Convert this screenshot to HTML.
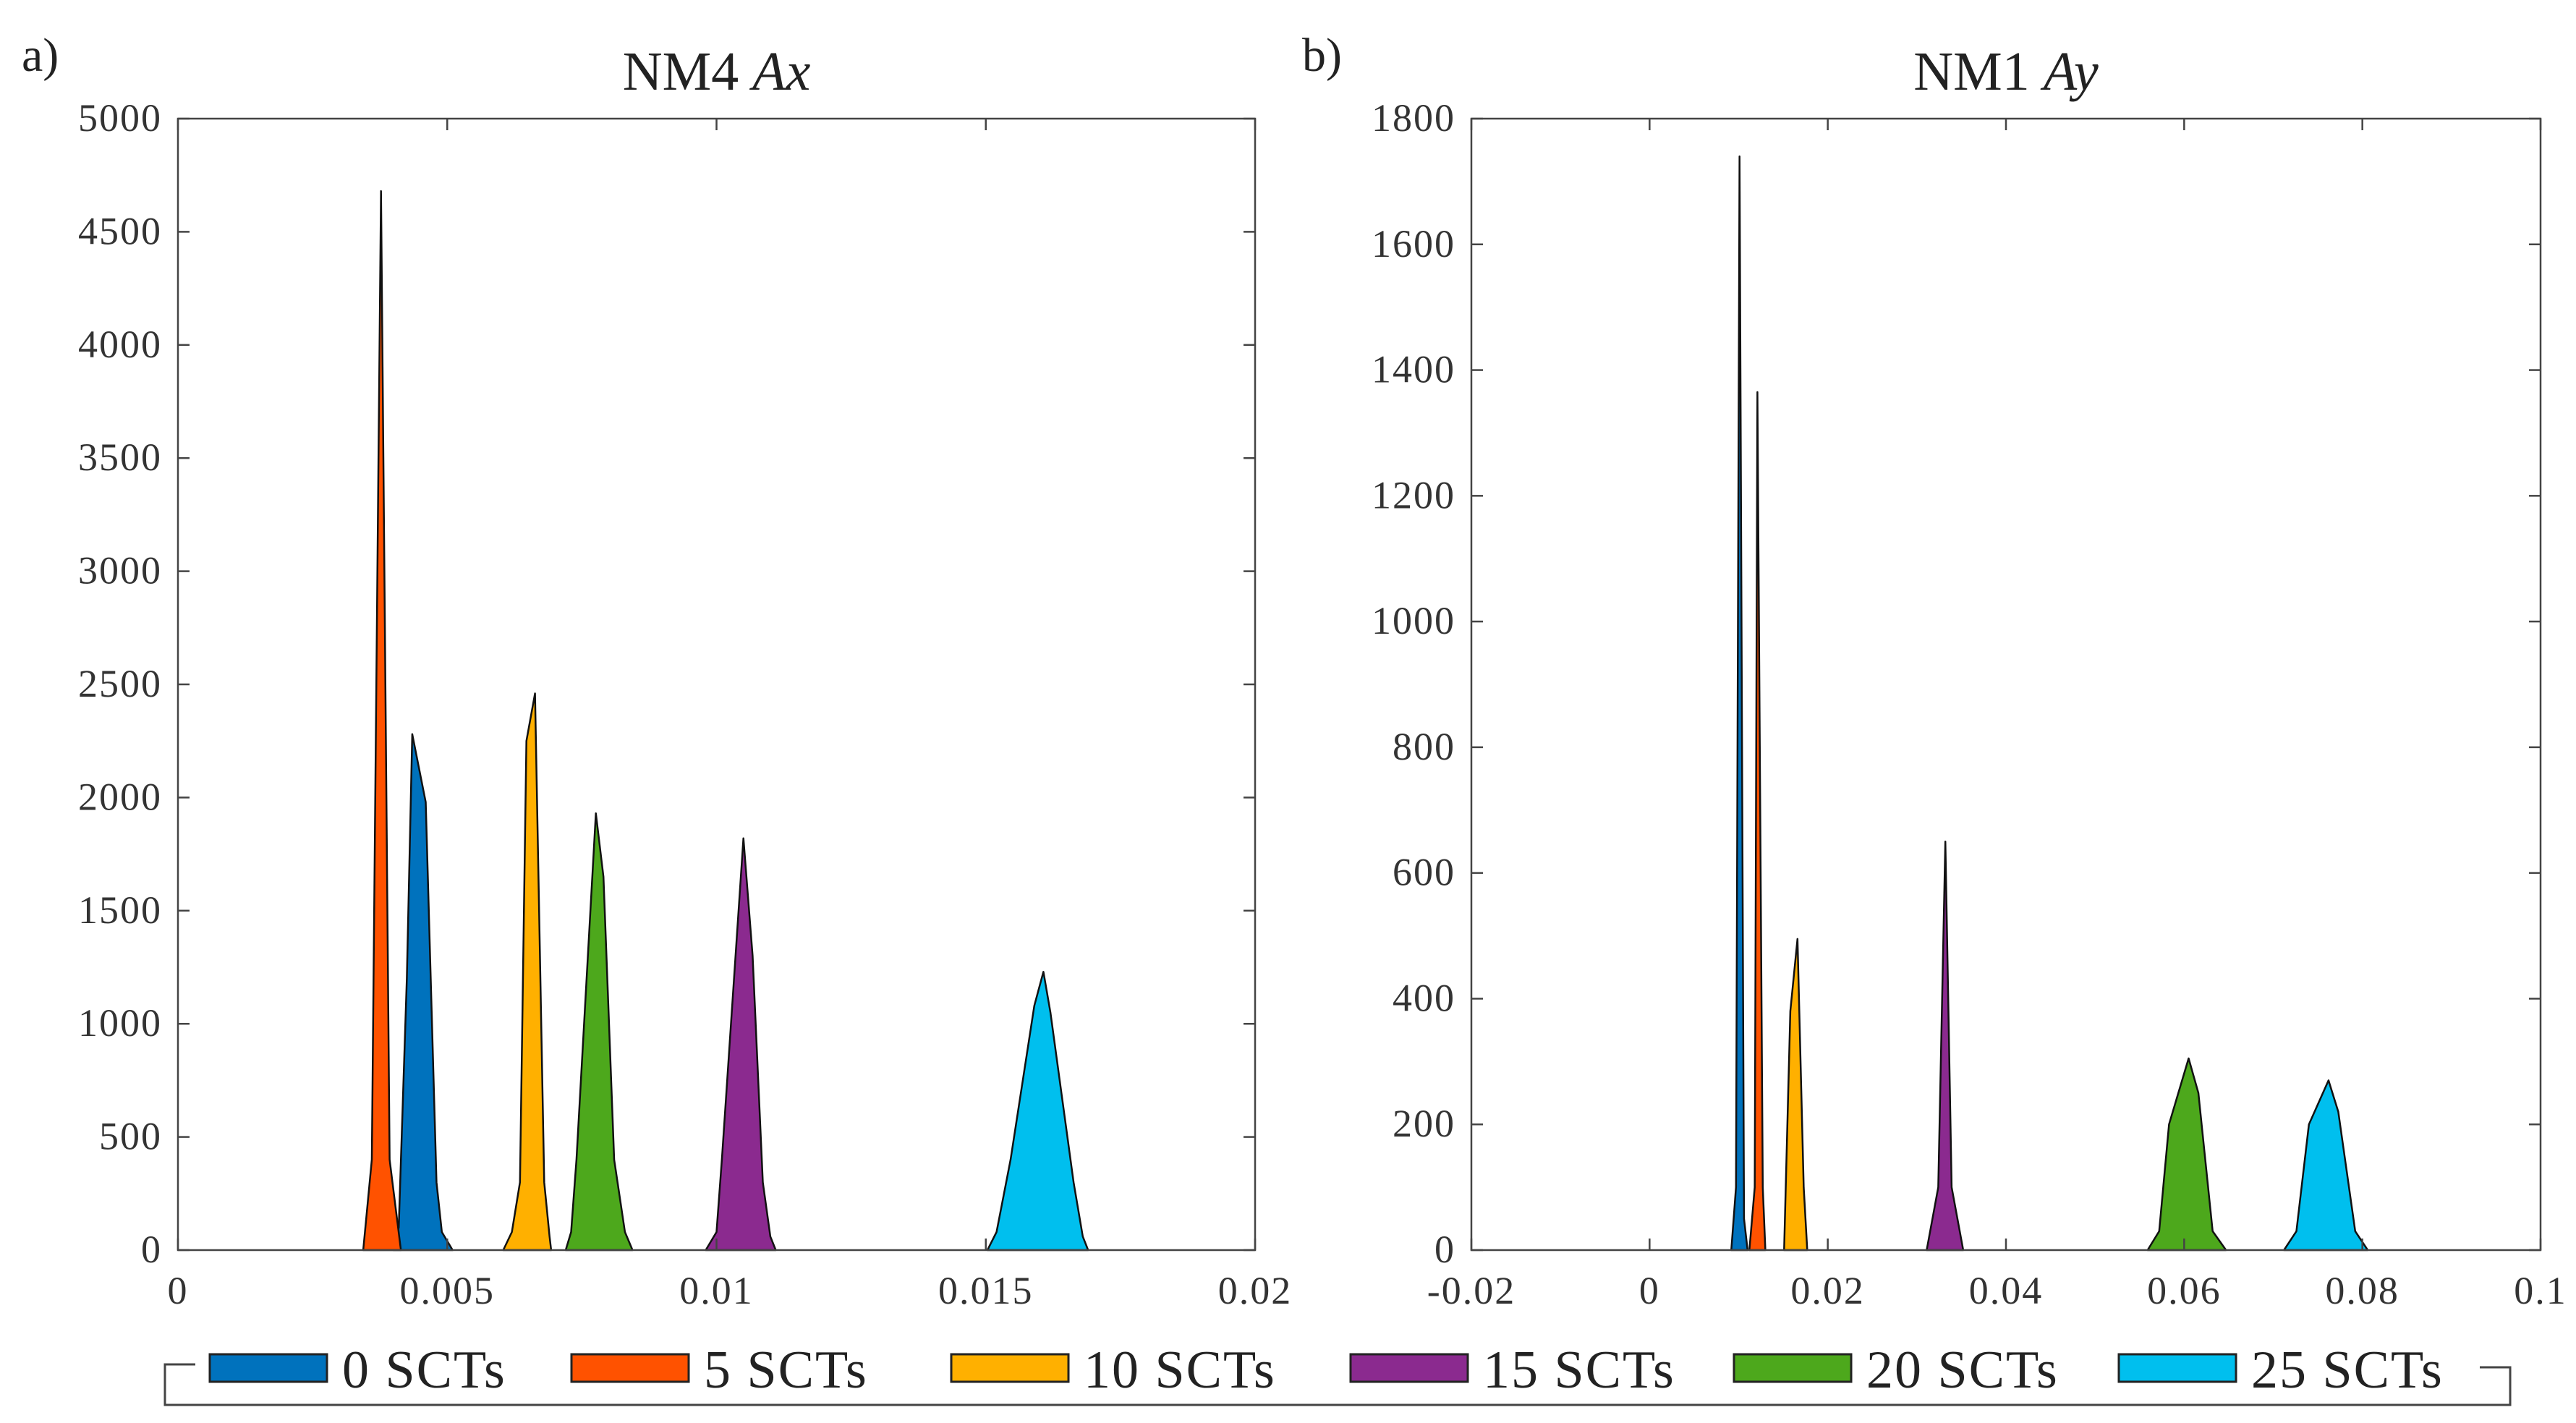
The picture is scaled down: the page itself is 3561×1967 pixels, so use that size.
<!DOCTYPE html>
<html><head><meta charset="utf-8"><style>
html,body{margin:0;padding:0;background:#fff;}
svg{display:block;font-family:"Liberation Serif",serif;}
</style></head><body>
<svg id="fig" width="3561" height="1967" viewBox="0 0 3561 1967" xmlns="http://www.w3.org/2000/svg">
<g id="panelA"></g>
<g id="panelB"></g>
<g id="legend"></g>
</svg>
<script>
const seriesNames = ["0 SCTs","5 SCTs","10 SCTs","15 SCTs","20 SCTs","25 SCTs"];
const seriesColors = ["#0072BD","#FF5200","#FFB000","#8B2A8F","#4DA81C","#00BFEE"];

// Panel a: NM4 Ax
const aXTicks = [0,0.005,0.01,0.015,0.02];
const aXTickLabels = ["0","0.005","0.01","0.015","0.02"];
const aYTicks = [0,500,1000,1500,2000,2500,3000,3500,4000,4500,5000];
const aBaseline = [0.00092,0.019];
const aX = [
 [0.0040,0.0041,0.00425,0.00435,0.0046,0.0048,0.0049,0.0051],
 [0.00344,0.0036,0.00377,0.00393,0.00414],
 [0.00604,0.0062,0.00635,0.00647,0.00663,0.0068,0.0069,0.00693],
 [0.0098,0.0100,0.0101,0.0105,0.01067,0.01086,0.0110,0.0111],
 [0.0072,0.0073,0.0074,0.00776,0.0079,0.0081,0.0083,0.00844],
 [0.01503,0.0152,0.01546,0.0159,0.01607,0.0162,0.01663,0.0168,0.0169]
];
const aY = [
 [0,100,1200,2280,1980,300,80,0],
 [0,400,4680,400,0],
 [0,80,300,2250,2460,300,60,0],
 [0,80,400,1820,1300,300,60,0],
 [0,80,400,1930,1650,400,80,0],
 [0,80,400,1080,1230,1050,300,60,0]
];

// Panel b: NM1 Ay
const bXTicks = [-0.02,0,0.02,0.04,0.06,0.08,0.1];
const bXTickLabels = ["-0.02","0","0.02","0.04","0.06","0.08","0.1"];
const bYTicks = [0,200,400,600,800,1000,1200,1400,1600,1800];
const bBaseline = [-0.0026,0.0887];
const bX = [
 [0.00917,0.0097,0.0101,0.0106,0.011],
 [0.0112,0.0118,0.0121,0.0127,0.013],
 [0.0151,0.0158,0.0166,0.0173,0.0177],
 [0.0311,0.0324,0.0332,0.0339,0.0352],
 [0.0559,0.0572,0.0583,0.0605,0.0616,0.0632,0.0647],
 [0.0712,0.0726,0.0740,0.0762,0.0773,0.0792,0.0806]
];
const bY = [
 [0,100,1740,50,0],
 [0,100,1365,100,0],
 [0,380,495,100,0],
 [0,100,650,100,0],
 [0,30,200,305,250,30,0],
 [0,30,200,270,220,30,0]
];

const NS="http://www.w3.org/2000/svg";
function mk(tag,attrs,parent){const e=document.createElementNS(NS,tag);for(const k in attrs)e.setAttribute(k,attrs[k]);parent.appendChild(e);return e;}

function drawPanel(g,cfg){
  const {L,R,T,B,xmin,xmax,ymin,ymax}=cfg;
  const sx=v=>L+(v-xmin)/(xmax-xmin)*(R-L);
  const sy=v=>B-(v-ymin)/(ymax-ymin)*(B-T);
  const bl=mk('line',{x1:sx(cfg.base[0]),x2:sx(cfg.base[1]),y1:sy(0),y2:sy(0),stroke:'#222','stroke-width':2},g);
  
  
  for(let s=0;s<cfg.xs.length;s++){
    let d='';
    for(let i=0;i<cfg.xs[s].length;i++){d+=(i?'L':'M')+sx(cfg.xs[s][i]).toFixed(1)+','+sy(cfg.ys[s][i]).toFixed(1);}
    d+='Z';
    const p=mk('path',{d:d,fill:seriesColors[s],stroke:'#111','stroke-width':2.5,'stroke-linejoin':'round'},g);
    
    
  }
  const box=mk('rect',{x:L,y:T,width:R-L,height:B-T,fill:'none',stroke:'#444','stroke-width':2.5},g);
  
  
  cfg.xt.forEach((v,i)=>{
    const x=sx(v);
    mk('line',{x1:x,x2:x,y1:B,y2:B-16,stroke:'#444','stroke-width':2.5},g);
    mk('line',{x1:x,x2:x,y1:T,y2:T+16,stroke:'#444','stroke-width':2.5},g);
    const t=mk('text',{x:x,y:1802,'font-size':54,'text-anchor':'middle',fill:'#333','letter-spacing':2},g);
    t.textContent=cfg.xl[i];
    
    
  });
  cfg.yt.forEach(v=>{
    const y=sy(v);
    mk('line',{x1:L,x2:L+16,y1:y,y2:y,stroke:'#444','stroke-width':2.5},g);
    mk('line',{x1:R,x2:R-16,y1:y,y2:y,stroke:'#444','stroke-width':2.5},g);
    const t=mk('text',{x:L-22,y:y+17,'font-size':54,'text-anchor':'end',fill:'#333','letter-spacing':2},g);
    t.textContent=String(v);
    
    
  });
  const tt=mk('text',{x:(L+R)/2,y:124,'font-size':76,'text-anchor':'middle',fill:'#222'},g);
  tt.innerHTML=cfg.title;
  
  
  const lb=mk('text',{x:cfg.lx,y:98,'font-size':66,fill:'#222'},g);
  lb.textContent=cfg.label;
  
  
}

drawPanel(document.getElementById('panelA'),{L:246,R:1735,T:164,B:1728,xmin:0,xmax:0.02,ymin:0,ymax:5000,
  xs:aX,ys:aY,xt:aXTicks,xl:aXTickLabels,yt:aYTicks,base:aBaseline,title:'NM4 <tspan font-style="italic">Ax</tspan>',label:'a)',lx:30});
drawPanel(document.getElementById('panelB'),{L:2034,R:3512,T:164,B:1728,xmin:-0.02,xmax:0.1,ymin:0,ymax:1800,
  xs:bX,ys:bY,xt:bXTicks,xl:bXTickLabels,yt:bYTicks,base:bBaseline,title:'NM1 <tspan font-style="italic">Ay</tspan>',label:'b)',lx:1800});

const lg=document.getElementById('legend');
const br=mk('path',{d:'M270,1886 L228,1886 L228,1942 L3470,1942 L3470,1890 L3428,1890',fill:'none',stroke:'#444','stroke-width':3},lg);


const swX=[290,790,1315,1867,2397,2929];
seriesNames.forEach((n,i)=>{
  const e=mk('g',{},lg);
  
  
  mk('rect',{x:swX[i],y:1872,width:162,height:38,fill:seriesColors[i],stroke:'#222','stroke-width':3},e);
  const t=mk('text',{x:swX[i]+183,y:1918,'font-size':74,fill:'#222','letter-spacing':2},e);
  t.textContent=n;
});
</script>
</body></html>
